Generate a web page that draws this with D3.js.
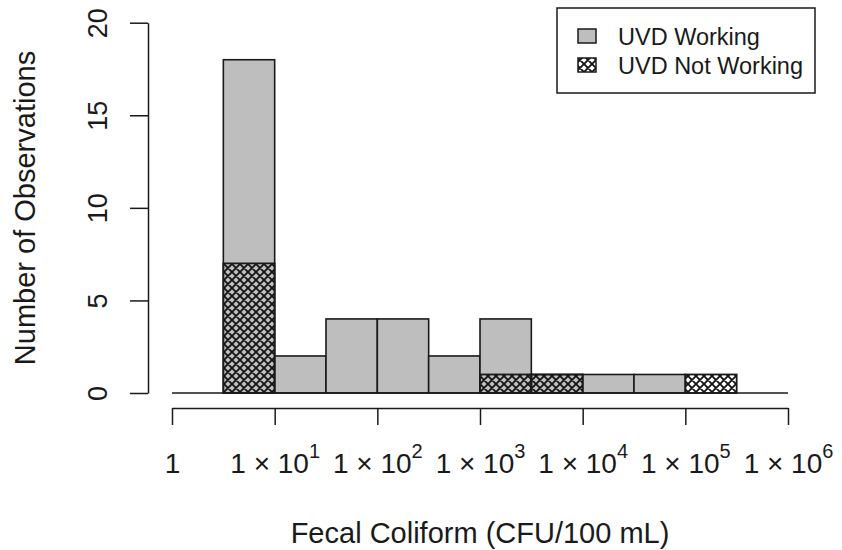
<!DOCTYPE html>
<html>
<head>
<meta charset="utf-8">
<script src="https://cdn.jsdelivr.net/npm/d3@7"></script>
<style>
  html, body { margin: 0; padding: 0; background: #fff; }
  svg { display: block; font-family: "Liberation Sans", Arial, Helvetica, sans-serif; }
</style>
</head>
<body>
<svg id="chart" width="842" height="550"></svg>
<script>
// Histogram bin edges (CFU/100 mL), half-decade bins
const binEdges = [3.1623, 10, 31.623, 100, 316.23, 1000, 3162.3, 10000, 31623, 100000, 316228];
// Observations per bin while the UVD was working (grey bars)
const workingCounts = [18, 2, 4, 4, 2, 4, 1, 1, 1, 0];
// Observations per bin while the UVD was not working (cross-hatched)
const notWorkingCounts = [7, 0, 0, 0, 0, 1, 1, 0, 0, 1];

// Axis ticks
const xTickValues = [1, 10, 100, 1000, 10000, 100000, 1000000];
const xTickExponents = [null, 1, 2, 3, 4, 5, 6];
const yTickValues = [0, 5, 10, 15, 20];

const legendLabels = ["UVD Working", "UVD Not Working"];
const xTitle = "Fecal Coliform (CFU/100 mL)";
const yTitle = "Number of Observations";

const svg = d3.select("#chart");
const ink = "#1a1a1a";
const grey = "#bebebe";

const x = d3.scaleLog().domain([1, 1e6]).range([172, 788]);
const y = d3.scaleLinear().domain([0, 20]).range([393, 22.7]);

// Cross-hatch pattern
const defs = svg.append("defs");
const pat = defs.append("pattern")
  .attr("id", "xhatch")
  .attr("patternUnits", "userSpaceOnUse")
  .attr("width", 8).attr("height", 8)
  .attr("x", 0).attr("y", 0);
pat.append("path")
  .attr("d", "M-2,-2 L10,10 M-2,10 L10,-2 M-2,6 L2,10 M6,-2 L10,2 M-2,2 L2,-2 M6,10 L10,6")
  .attr("stroke", "#111").attr("stroke-width", 1.8).attr("fill", "none");

const bins = workingCounts.map((w, i) => ({
  x0: binEdges[i], x1: binEdges[i + 1], working: w, notWorking: notWorkingCounts[i]
}));

// Grey bars
svg.append("g").selectAll("rect")
  .data(bins.filter(d => d.working > 0))
  .join("rect")
  .attr("x", d => x(d.x0))
  .attr("width", d => x(d.x1) - x(d.x0))
  .attr("y", d => y(d.working))
  .attr("height", d => y(0) - y(d.working))
  .attr("fill", grey)
  .attr("stroke", ink).attr("stroke-width", 1.6);

// Hatched bars
svg.append("g").selectAll("rect")
  .data(bins.filter(d => d.notWorking > 0))
  .join("rect")
  .attr("x", d => x(d.x0))
  .attr("width", d => x(d.x1) - x(d.x0))
  .attr("y", d => y(d.notWorking))
  .attr("height", d => y(0) - y(d.notWorking))
  .attr("fill", "url(#xhatch)")
  .attr("stroke", ink).attr("stroke-width", 1.8);

// Zero line
svg.append("line")
  .attr("x1", x(1)).attr("x2", x(1e6))
  .attr("y1", y(0)).attr("y2", y(0))
  .attr("stroke", ink).attr("stroke-width", 1.5);

// X axis
const xAxis = svg.append("g")
  .attr("transform", "translate(0,408)")
  .call(d3.axisBottom(x).tickValues(xTickValues).tickSize(17).tickSizeOuter(0).tickFormat(() => ""));
xAxis.selectAll("path, line").attr("stroke", ink).attr("stroke-width", 1.5);
xAxis.selectAll(".tick text").remove();
xAxis.selectAll(".tick").each(function(d, i) {
  const t = d3.select(this).append("text")
    .attr("y", 65)
    .attr("fill", ink)
    .attr("font-size", 28)
    .attr("text-anchor", "middle");
  const e = xTickExponents[i];
  if (e === null) {
    t.text("1");
  } else {
    t.append("tspan").text("1 \u00d7 10");
    t.append("tspan").attr("font-size", 20).attr("dy", -15).text(String(e));
  }
});

// Y axis
const yAxis = svg.append("g")
  .attr("transform", "translate(148,0)")
  .call(d3.axisLeft(y).tickValues(yTickValues).tickSize(18).tickSizeOuter(0).tickFormat(() => ""));
yAxis.selectAll("path, line").attr("stroke", ink).attr("stroke-width", 1.5);
yAxis.selectAll(".tick text").remove();
yAxis.selectAll(".tick").append("text")
  .attr("transform", "translate(-41,0) rotate(-90)")
  .attr("text-anchor", "middle")
  .attr("fill", ink)
  .attr("font-size", 27)
  .text(d => d);

// Axis titles
svg.append("text")
  .attr("x", 480).attr("y", 543)
  .attr("text-anchor", "middle")
  .attr("font-size", 29).attr("fill", ink)
  .text(xTitle);
svg.append("text")
  .attr("transform", "translate(35,208) rotate(-90)")
  .attr("text-anchor", "middle")
  .attr("font-size", 29).attr("fill", ink)
  .text(yTitle);

// Legend
const legend = svg.append("g");
legend.append("rect")
  .attr("x", 557).attr("y", 8).attr("width", 258).attr("height", 85)
  .attr("fill", "#fff").attr("stroke", ink).attr("stroke-width", 1.5);
const swatchFills = [grey, "url(#xhatch)"];
legendLabels.forEach((lab, i) => {
  const cy = 36 + i * 29;
  legend.append("rect")
    .attr("x", 578).attr("y", cy - 7).attr("width", 18).attr("height", 14)
    .attr("fill", swatchFills[i]).attr("stroke", ink).attr("stroke-width", 1.5);
  legend.append("text")
    .attr("x", 618).attr("y", cy + 9)
    .attr("font-size", 23.5).attr("fill", ink)
    .text(lab);
});
</script>
</body>
</html>
